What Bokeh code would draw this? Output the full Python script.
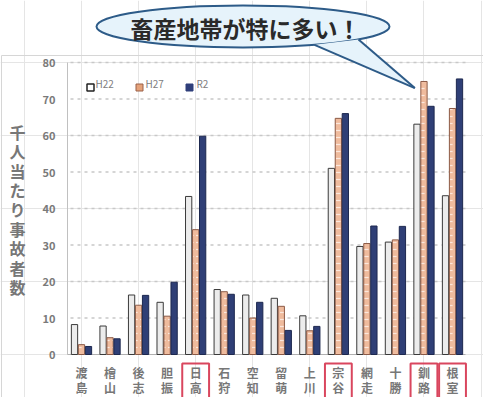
import math
from bokeh.plotting import figure
from bokeh.models import Range1d
from bokeh.embed import file_html
from bokeh.resources import INLINE
from bokeh.core.properties import value

# ---------------- data ----------------
categories = ["渡島", "檜山", "後志", "胆振", "日高", "石狩", "空知",
              "留萌", "上川", "宗谷", "網走", "十勝", "釧路", "根室"]
h22 = [8.2, 7.8, 16.3, 14.3, 43.3, 17.8, 16.3, 15.4, 10.6, 51.0, 29.6, 30.8, 63.1, 43.5]
h27 = [2.7, 4.6, 13.5, 10.5, 34.2, 17.2, 10.0, 13.2, 6.5, 64.7, 30.4, 31.4, 74.8, 67.4]
r2 = [2.2, 4.3, 16.2, 19.8, 59.8, 16.5, 14.3, 6.6, 7.7, 66.0, 35.2, 35.1, 68.0, 75.5]
series_names = ["H22", "H27", "R2"]
y_ticks = [0, 10, 20, 30, 40, 50, 60, 70, 80]
highlighted = ["日高", "宗谷", "釧路", "根室"]
y_title = "千人当たり事故者数"
callout_text = "畜産地帯が特に多い！"
callout_target = "釧路"

FONT = value("Noto Sans CJK JP")

# ---------------- layout helpers (page pixel -> data) ----------------
W, H = 483, 397
X0_REF, DX = 89.0, 28.54      # first group centre, group spacing (px)
Y0_REF = 362.0                # baseline y (px)
DY = (Y0_REF - 70.0) / 80.0   # px per unit (80 at y=70)
x_start = -(X0_REF - 8) / DX
x_end = x_start + W / DX
y_end = (Y0_REF - 8) / DY
y_start = y_end - H / DY


def px(xr):
    return x_start + (xr - 8) / DX


def py(yr):
    return (Y0_REF - yr) / DY


p = figure(width=W, height=H, x_range=Range1d(x_start, x_end),
           y_range=Range1d(y_start, y_end), output_backend="svg",
           toolbar_location=None, x_axis_location=None, y_axis_location=None,
           min_border=0, min_border_left=0, min_border_right=0,
           min_border_top=0, min_border_bottom=0)
p.outline_line_color = None
p.background_fill_color = "white"
p.border_fill_color = "white"

idx = list(range(len(categories)))

# chart border (light frame)
p.quad(left=[px(9)], right=[px(520)], top=[py(63)], bottom=[py(440)],
       fill_color=None, line_color="#d6d6d6", line_width=1)

# gridlines
grid_vals = [t for t in y_ticks if t > 0]
p.segment(x0=[px(78)] * len(grid_vals), x1=[px(476)] * len(grid_vals),
          y0=grid_vals, y1=grid_vals, line_color="#c8c8c8",
          line_width=1.5, line_dash="3 4")

# axis line and baseline
p.segment(x0=[px(75)], x1=[px(75)], y0=[0], y1=[y_ticks[-1]],
          line_color="#c0c0c0", line_width=1)
p.segment(x0=[px(75)], x1=[px(473)], y0=[0], y1=[0],
          line_color="#b0b0b0", line_width=1.2)

# tick labels
p.text(x=[px(63)] * len(y_ticks), y=y_ticks, text=[str(t) for t in y_ticks],
       text_font=FONT, text_font_size="11px", text_font_style="bold",
       text_color="#7a7a7a", text_align="right", text_baseline="middle")

# y title (stacked characters)
p.text(x=[px(25)], y=[py(217)], text=["\n".join(y_title)],
       text_font=FONT, text_font_size="16px", text_font_style="bold",
       text_color="#777777", text_align="center", text_baseline="middle",
       text_line_height=0.81)

# bars
BW = 0.22
OFF = 0.245
p.vbar(x=[i - OFF for i in idx], top=h22, bottom=0, width=BW,
       fill_color="#ececec", line_color="#3a3a3a", line_width=1)
p.vbar(x=idx, top=h27, bottom=0, width=BW,
       fill_color="#efbb9d", line_color="#8c5a46", line_width=1,
       hatch_pattern="horizontal_dash", hatch_color="#fbe7dc",
       hatch_scale=7, hatch_weight=1.2)
p.vbar(x=[i + OFF for i in idx], top=r2, bottom=0, width=BW,
       fill_color="#2f3f76", line_color="#1d284f", line_width=1)

# legend (custom)
leg_y = py(95)
leg_box_x = [px(98), px(147), px(197)]
leg_txt_x = [px(103), px(153), px(204)]
p.scatter(x=[leg_box_x[0]], y=[leg_y], marker="square", size=7,
          fill_color="white", line_color="#222222", line_width=1.5)
p.scatter(x=[leg_box_x[1]], y=[leg_y], marker="square", size=7,
          fill_color="#e5a27a", line_color="#9a6048", line_width=1)
p.scatter(x=[leg_box_x[2]], y=[leg_y], marker="square", size=7,
          fill_color="#2f3f7a", line_color="#2f3f7a", line_width=1)
p.text(x=leg_txt_x, y=[py(91)] * 3, text=series_names, text_font=FONT,
       text_font_size="10px", text_color="#808080", text_align="left",
       text_baseline="middle")

# category labels (vertical: one glyph per character)
first_chars = [c[0] for c in categories]
second_chars = [c[1] for c in categories]
label_style = dict(text_font=FONT, text_font_size="12px",
                   text_font_style="bold", text_color="#777777",
                   text_align="center", text_baseline="middle")
p.text(x=idx, y=[py(380)] * len(idx), text=first_chars, **label_style)
p.text(x=idx, y=[py(395)] * len(idx), text=second_chars, **label_style)

# highlight boxes
hi = [categories.index(c) for c in highlighted]
p.quad(left=[i - 0.47 for i in hi], right=[i + 0.47 for i in hi],
       top=[py(371)] * len(hi), bottom=[py(440)] * len(hi),
       fill_color=None, line_color="#d9465e", line_width=2)

# callout bubble
ecx, ecy, ea, eb = 250.5, 34.0, 146.5, 21.0   # ref px


def on_ellipse(xr):
    dx = (xr - ecx) / ea
    return ecy + eb * math.sqrt(max(0.0, 1 - dx * dx))


b1x, b2x = 322.0, 366.0
b1y, b2y = on_ellipse(b1x), on_ellipse(b2x)
ti = categories.index(callout_target)
tip_x = ti - 0.32
tip_y = h27[ti] - 1.8

p.ellipse(x=[px(ecx)], y=[py(ecy)], width=[2 * ea / DX], height=[2 * eb / DY],
          fill_color="#e6f3fb", line_color="#2d5b88", line_width=2)
p.patch(x=[px(b1x), tip_x, px(b2x)], y=[py(b1y), tip_y, py(b2y)],
        fill_color="#e6f3fb", line_color=None)
p.multi_line(xs=[[px(b1x), tip_x], [px(b2x), tip_x]],
             ys=[[py(b1y), tip_y], [py(b2y), tip_y]],
             line_color="#2d5b88", line_width=2)
p.text(x=[px(253)], y=[py(35)], text=[callout_text], text_font=FONT,
       text_font_size="23px", text_font_style="bold", text_color="#2a2a2a",
       text_align="center", text_baseline="middle")

open("out.html", "w").write(file_html(p, INLINE))
